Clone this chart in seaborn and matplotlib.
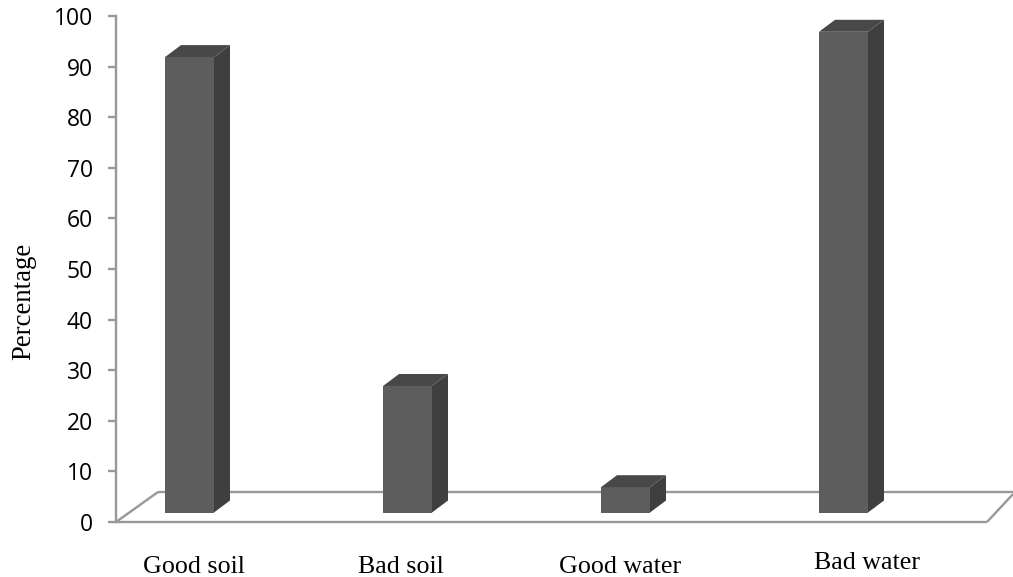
import pandas as pd
import matplotlib
matplotlib.use('Agg')
import matplotlib.pyplot as plt
import seaborn as sns
from matplotlib.patches import Polygon
from matplotlib.transforms import ScaledTranslation

# Data
categories = ['Good soil', 'Bad soil', 'Good water', 'Bad water']
percentages = [90, 25, 5, 95]
y_ticks = [0, 10, 20, 30, 40, 50, 60, 70, 80, 90, 100]

df = pd.DataFrame({'Kategori': categories, 'Persen': percentages})

sns.set_theme(style='white')
plt.rcParams['font.family'] = ['Open Sans', 'DejaVu Sans']

W, H = 1013, 577
fig = plt.figure(figsize=(W / 100, H / 100), dpi=100)
# plot area in pixels: x 116..1013, y 16..522
ax = fig.add_axes([116 / W, 1 - 522 / H, (1013 - 116) / W, (522 - 16) / H])

# pixel to data scale
px_x = 1 / 218
px_y = 100 / 506

GRAY = '#989898'
lift = 9.5 * px_y  # bars float above the front floor line
dx, dy = 16 * px_x, 12 * px_y  # bar depth
fx, fy = 42 * px_x, 30 * px_y  # floor depth

sns.barplot(data=df, x='Kategori', y='Persen', color='#5d5d5d', saturation=1,
            width=49 / 218, bottom=lift, ax=ax, zorder=3, linewidth=0)

x0 = (116 - 189.5) * px_x
x1 = (1013 - 189.5) * px_x
ax.set_xlim(x0, x1)
ax.set_ylim(0, 100)

# floor of the fake 3D box
front_end = (987 - 189.5) * px_x
line_kw = dict(color=GRAY, lw=1.7, zorder=1, clip_on=False, solid_capstyle='butt')
ax.plot([x0, front_end], [0, 0], **line_kw)
ax.plot([front_end, x1], [0, fy * 0.93], **line_kw)
ax.plot([x0, x0 + fx], [0, fy], **line_kw)
ax.plot([x0 + fx, x1], [fy, fy], **line_kw)

# side and top faces built from the bars seaborn drew
for bar in ax.patches[:len(categories)]:
    left = bar.get_x()
    right = left + bar.get_width()
    low = bar.get_y()
    top = low + bar.get_height()
    ax.add_patch(Polygon([(right, low), (right + dx, low + dy), (right + dx, top + dy), (right, top)],
                         closed=True, fc='#3f3f3f', ec='none', zorder=3))
    ax.add_patch(Polygon([(left, top), (left + dx, top + dy), (right + dx, top + dy), (right, top)],
                         closed=True, fc='#484848', ec='none', zorder=3))

sns.despine(ax=ax, top=True, right=True, bottom=True)
ax.spines['left'].set_color(GRAY)
ax.spines['left'].set_linewidth(1.7)

ax.set_yticks(y_ticks)
ax.tick_params(axis='y', length=6, width=1.7, color=GRAY, pad=10.5, labelsize=16.5, labelcolor='black', left=True)
ax.set_xticks(range(len(categories)))
ax.set_xticklabels(categories, family='Liberation Serif', fontsize=18.7, color='black')
ax.tick_params(axis='x', length=0, pad=19.5)

# labels in the reference sit a bit off the bars, in pixels
label_shift = [(4, -6.5), (-7, -6.5), (-5, -6.5), (23, -3)]
for lab, (sx, sy) in zip(ax.get_xticklabels(), label_shift):
    lab.set_transform(lab.get_transform() + ScaledTranslation(sx / 100, sy / 100, fig.dpi_scale_trans))

ax.set_xlabel('')
ax.set_ylabel('')
fig.text(24 / W, 1 - 301 / H, 'Percentage', rotation=90, ha='center', va='center',
         family='Liberation Serif', fontsize=19.3, color='black')

fig.savefig('out.png', dpi=100, facecolor='white')
